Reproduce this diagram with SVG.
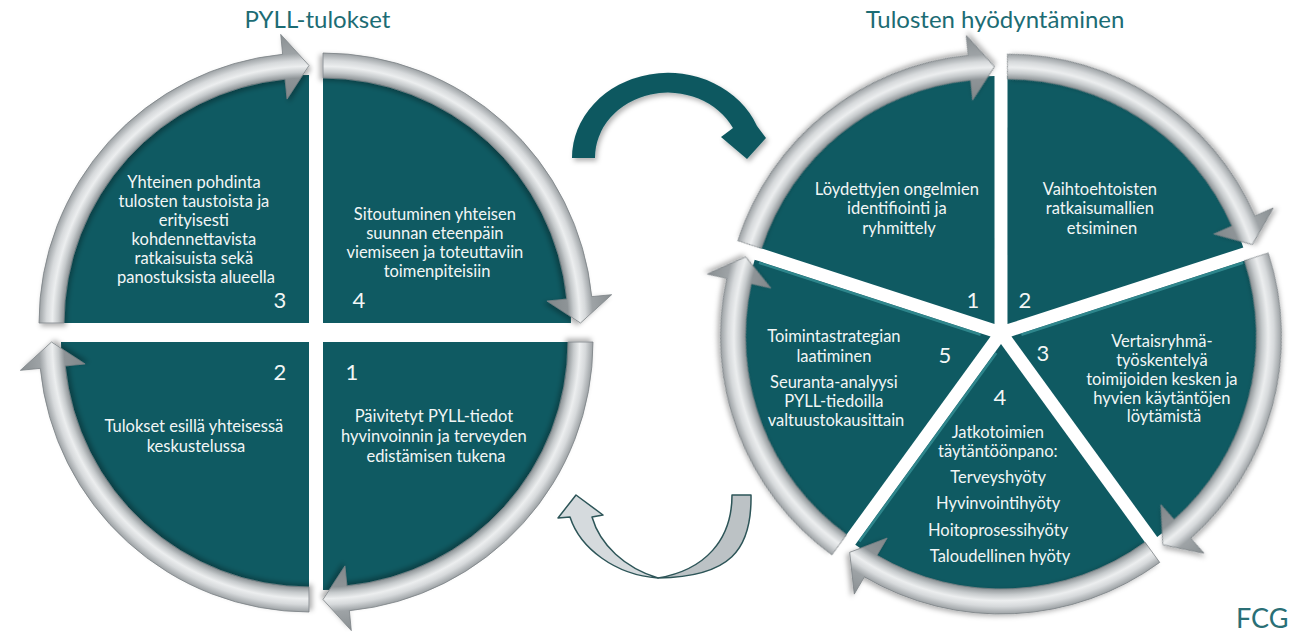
<svg xmlns="http://www.w3.org/2000/svg" xmlns:xlink="http://www.w3.org/1999/xlink" width="1291" height="632" viewBox="0 0 1291 632">
<defs>
  <radialGradient id="ringGrad" gradientUnits="userSpaceOnUse" cx="0" cy="0" r="290">
    <stop offset="0.77" stop-color="#7f8689"/>
    <stop offset="0.845" stop-color="#8e9497"/>
    <stop offset="0.865" stop-color="#c6cacc"/>
    <stop offset="0.885" stop-color="#eceeef"/>
    <stop offset="0.905" stop-color="#d6d9db"/>
    <stop offset="0.93" stop-color="#9ea3a6"/>
    <stop offset="1" stop-color="#888e91"/>
  </radialGradient>
  <filter id="shadow" x="-20%" y="-20%" width="140%" height="140%">
    <feDropShadow dx="2" dy="3" stdDeviation="2.5" flood-color="#000" flood-opacity="0.3"/>
  </filter>
  <path id="quad" d="M0 0 L-248 0 A248 248 0 0 1 0 -248 Z"/>
  <path id="quadArrow" fill="url(#ringGrad)" d="M-270 0 A270 270 0 0 1 -26.35 -268.71 L-28.30 -288.62 L0 -257.5 L-21.96 -223.93 L-23.91 -243.83 A245 245 0 0 0 -245 0 Z"/>
  <path id="sector" d="M0 0 L200.64 -145.77 A248 248 0 0 1 200.64 145.77 Z"/>
  <path id="sectorArrow" fill="url(#ringGrad)" d="M218.43 -158.70 A270 270 0 0 1 232.88 136.63 L250.13 146.75 L208.32 151.35 L194.06 113.86 L211.31 123.98 A245 245 0 0 0 198.21 -144.01 Z"/>
  <path id="bevelStart" d="M8.97 -4.67 L197.47 -141.62"/>
  <path id="bevelEnd" d="M8.97 4.67 L197.47 141.62"/>
</defs>
<style>
  .teal{fill:#0f5a62}
  .ring{stroke:#7b8285;stroke-width:0.8;filter:url(#shadow)}
  .bevel{fill:none;stroke:#3a959b;stroke-width:2.5;opacity:0.75}
  .t{font-family:Lato,"Open Sans","Liberation Sans",sans-serif;font-size:16.5px;fill:#f2f6f6;text-anchor:middle}
  .n{font-family:Lato,"Open Sans","Liberation Sans",sans-serif;font-size:22px;fill:#f2f6f6;text-anchor:middle}
  .title{font-family:Lato,"Open Sans","Liberation Sans",sans-serif;font-size:24px;fill:#1c6c74;text-anchor:middle}
  .logo{font-family:Lato,"Open Sans","Liberation Sans",sans-serif;font-size:27px;fill:#2a6f76}
  .cteal{fill:#0e5860;filter:url(#shadow)}
  .cgrayL{fill:#d5dadd;stroke:#2d5558;stroke-width:1.5;stroke-linejoin:round}
  .cgrayR{fill:#bcc2c5;stroke:#2d5558;stroke-width:1.5;stroke-linejoin:round}
</style>

<g id="titles">
  <text class="title" x="317.5" y="28">PYLL-tulokset</text>
  <text class="title" x="995" y="28">Tulosten hyödyntäminen</text>
</g>

<!-- Left circle: PYLL-tulokset -->
<g id="pyll-3">
  <use href="#quad" class="teal" transform="translate(309,323)"/>
  <use href="#quadArrow" class="ring" transform="translate(309,323)"/>
  <text class="t">
    <tspan x="196" y="188">Yhteinen pohdinta</tspan>
    <tspan x="196" y="207">tulosten taustoista ja</tspan>
    <tspan x="196" y="226">erityisesti</tspan>
    <tspan x="196" y="245">kohdennettavista</tspan>
    <tspan x="196" y="264">ratkaisuista sekä</tspan>
    <tspan x="196" y="283">panostuksista alueella</tspan>
  </text>
  <text class="n" x="280" y="308">3</text>
</g>
<g id="pyll-4">
  <use href="#quad" class="teal" transform="translate(323,323) rotate(90)"/>
  <use href="#quadArrow" class="ring" transform="translate(323,323) rotate(90)"/>
  <text class="t">
    <tspan x="437" y="220">Sitoutuminen yhteisen</tspan>
    <tspan x="437" y="239">suunnan eteenpäin</tspan>
    <tspan x="437" y="258">viemiseen ja toteuttaviin</tspan>
    <tspan x="437" y="277">toimenpiteisiin</tspan>
  </text>
  <text class="n" x="359" y="308">4</text>
</g>
<g id="pyll-1">
  <use href="#quad" class="teal" transform="translate(323,342) rotate(180)"/>
  <use href="#quadArrow" class="ring" transform="translate(323,342) rotate(180)"/>
  <text class="n" x="352" y="380">1</text>
  <text class="t">
    <tspan x="436" y="422">Päivitetyt PYLL-tiedot</tspan>
    <tspan x="436" y="442">hyvinvoinnin ja terveyden</tspan>
    <tspan x="436" y="462">edistämisen tukena</tspan>
  </text>
</g>
<g id="pyll-2">
  <use href="#quad" class="teal" transform="translate(309,342) rotate(270)"/>
  <use href="#quadArrow" class="ring" transform="translate(309,342) rotate(270)"/>
  <text class="n" x="280" y="380">2</text>
  <text class="t">
    <tspan x="196" y="432">Tulokset esillä yhteisessä</tspan>
    <tspan x="196" y="452">keskustelussa</tspan>
  </text>
</g>

<!-- Right wheel: Tulosten hyödyntäminen -->
<g id="hyod-1">
  <use href="#sector" class="teal" transform="translate(994.53,324.10) rotate(-126)"/>
  <use href="#sectorArrow" class="ring" transform="translate(994.53,324.10) rotate(-126)"/>
  <text class="t">
    <tspan x="899" y="195">Löydettyjen ongelmien</tspan>
    <tspan x="899" y="214">identifiointi ja</tspan>
    <tspan x="899" y="234">ryhmittely</tspan>
  </text>
  <text class="n" x="973" y="308">1</text>
</g>
<g id="hyod-2">
  <use href="#sector" class="teal" transform="translate(1007.47,324.10) rotate(-54)"/>
  <use href="#sectorArrow" class="ring" transform="translate(1007.47,324.10) rotate(-54)"/>
  <text class="t">
    <tspan x="1102" y="195">Vaihtoehtoisten</tspan>
    <tspan x="1102" y="214">ratkaisumallien</tspan>
    <tspan x="1102" y="234">etsiminen</tspan>
  </text>
  <text class="n" x="1025" y="308">2</text>
</g>
<g id="hyod-3">
  <use href="#sector" class="teal" transform="translate(1011.46,336.40) rotate(18)"/>
  <use href="#bevelStart" class="bevel" transform="translate(1011.46,336.40) rotate(18)"/>
  <use href="#sectorArrow" class="ring" transform="translate(1011.46,336.40) rotate(18)"/>
  <text class="n" x="1043" y="361">3</text>
  <text class="t">
    <tspan x="1164" y="347">Vertaisryhmä-</tspan>
    <tspan x="1164" y="366">työskentelyä</tspan>
    <tspan x="1164" y="385">toimijoiden kesken ja</tspan>
    <tspan x="1164" y="404">hyvien käytäntöjen</tspan>
    <tspan x="1164" y="422">löytämistä</tspan>
  </text>
</g>
<g id="hyod-4">
  <use href="#sector" class="teal" transform="translate(1001,344) rotate(90)"/>
  <use href="#bevelEnd" class="bevel" transform="translate(1001,344) rotate(90)"/>
  <use href="#sectorArrow" class="ring" transform="translate(1001,344) rotate(90)"/>
  <text class="n" x="1000" y="405">4</text>
  <text class="t">
    <tspan x="1000" y="438">Jatkotoimien</tspan>
    <tspan x="1000" y="457">täytäntöönpano:</tspan>
    <tspan x="1000" y="483">Terveyshyöty</tspan>
    <tspan x="1000" y="509">Hyvinvointihyöty</tspan>
    <tspan x="1000" y="536">Hoitoprosessihyöty</tspan>
    <tspan x="1000" y="562">Taloudellinen hyöty</tspan>
  </text>
</g>
<g id="hyod-5">
  <use href="#sector" class="teal" transform="translate(990.54,336.40) rotate(162)"/>
  <use href="#bevelEnd" class="bevel" transform="translate(990.54,336.40) rotate(162)"/>
  <use href="#sectorArrow" class="ring" transform="translate(990.54,336.40) rotate(162)"/>
  <text class="t">
    <tspan x="836" y="342">Toimintastrategian</tspan>
    <tspan x="836" y="362">laatiminen</tspan>
    <tspan x="836" y="388">Seuranta-analyysi</tspan>
    <tspan x="836" y="407">PYLL-tiedoilla</tspan>
    <tspan x="836" y="426">valtuustokausittain</tspan>
  </text>
  <text class="n" x="945" y="363">5</text>
</g>

<!-- Connectors between the two cycles -->
<g id="connectors">
  <path class="cteal" d="M572 158 A96 85 0 0 1 757 126 L766 138 L747 159 L721 137 L733 128 A73 65 0 0 0 595 158 Z"/>
  <path class="cgrayR" d="M732 495 L751 495 C752 550 730 577 658 578 C705 570 732 540 732 495 Z"/>
  <path class="cgrayL" d="M658 578 C615 575 580 548 570 517 L558 518 L576 495 L603 515 L592 517 C600 545 625 568 658 578 Z"/>
</g>

<text class="logo" x="1236" y="628">FCG</text>
</svg>
